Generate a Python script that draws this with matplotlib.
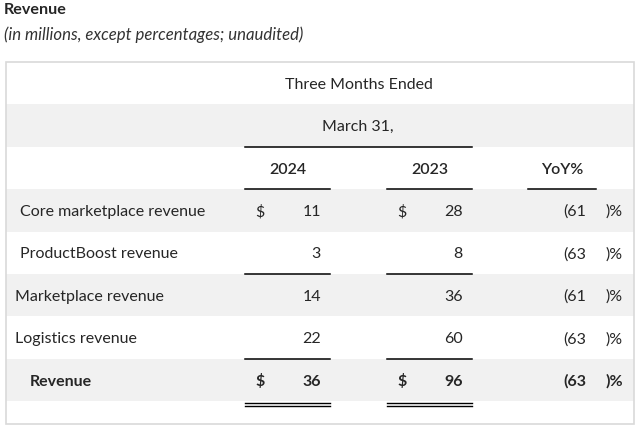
import matplotlib.pyplot as plt
from matplotlib.patches import Rectangle

plt.rcParams['font.family'] = ['Lato', 'DejaVu Sans']

# table data
row_labels = ['Core marketplace revenue', 'ProductBoost revenue', 'Marketplace revenue',
              'Logistics revenue', 'Revenue']
label_indent = [20, 20, 15, 15, 30]
rev_2024 = [11, 3, 14, 22, 36]
rev_2023 = [28, 8, 36, 60, 96]
yoy_pct = [-61, -63, -61, -63, -63]
show_dollar = [True, False, False, False, True]
bold_row = [False, False, False, False, True]
line_above = [False, False, True, False, True]
years = ['2024', '2023']

title = 'Revenue'
subtitle = '(in millions, except percentages; unaudited)'

W, H = 640, 429
fig = plt.figure(figsize=(W / 100, H / 100), dpi=100)
ax = fig.add_axes([0, 0, 1, 1])
ax.set_xlim(0, W)
ax.set_ylim(H, 0)
ax.axis('off')

txt = '#262626'
band = '#f1f1f1'

ax.text(4, 10, title, fontsize=11.6, fontweight='bold', color=txt, va='center')
ax.text(4, 35, subtitle, fontsize=12.1, style='italic', color='#333333', va='center')

# table frame and row bands
top, row_h = 62, 42.4
left, right = 5.5, 634
n_rows = 3 + len(row_labels)
for i in range(n_rows):
    if i % 2 == 1:
        ax.add_patch(Rectangle((left, top + i * row_h), right - left, row_h,
                               facecolor=band, edgecolor='none'))
ax.add_patch(Rectangle((left, top), right - left, 424 - top, facecolor='none',
                       edgecolor='#d9d9d9', linewidth=1.2))

def yc(i):
    # text centre of row i (slightly below the geometric middle)
    return top + (i + 0.5) * row_h + 1.5

fs = 11.5
ax.text(359, yc(0), 'Three Months Ended', fontsize=fs, color=txt, ha='center', va='center')
ax.text(358, yc(1), 'March 31,', fontsize=fs, color=txt, ha='center', va='center')
ax.plot([245, 472], [top + 2 * row_h] * 2, color='black', lw=1.1)

col_l = [245, 387]
col_r = [330, 472]
num_x = [321, 463]
for j, yr in enumerate(years):
    ax.text((col_l[j] + col_r[j]) / 2, yc(2), yr, fontsize=fs, color=txt,
            ha='center', va='center', fontweight='semibold')
    ax.plot([col_l[j], col_r[j]], [top + 3 * row_h] * 2, color='black', lw=1.1)
ax.text(562, yc(2), 'YoY%', fontsize=fs, color=txt, ha='center', va='center',
        fontweight='semibold')
ax.plot([528, 596], [top + 3 * row_h] * 2, color='black', lw=1.1)

for i, lab in enumerate(row_labels):
    r = i + 3
    y = yc(r)
    fw = 'bold' if bold_row[i] else 'normal'
    ax.text(label_indent[i], y, lab, fontsize=fs, color=txt, va='center', fontweight=fw)
    for j, vals in enumerate([rev_2024, rev_2023]):
        if show_dollar[i]:
            ax.text(col_l[j] + 10, y, '$', fontsize=fs, color=txt, va='center', fontweight=fw)
        ax.text(num_x[j], y, str(vals[i]), fontsize=fs, color=txt, ha='right',
                va='center', fontweight=fw)
        if line_above[i]:
            ax.plot([col_l[j], col_r[j]], [top + r * row_h] * 2, color='black', lw=1.1)
    ax.text(586, y, '(%d' % abs(yoy_pct[i]), fontsize=fs, color=txt, ha='right',
            va='center', fontweight=fw)
    ax.text(606, y, ')%', fontsize=fs, color=txt, va='center', fontweight=fw)

# double underline under total
y_tot = top + n_rows * row_h
for j in range(2):
    ax.plot([col_l[j], col_r[j]], [y_tot + 2] * 2, color='black', lw=1.0)
    ax.plot([col_l[j], col_r[j]], [y_tot + 5] * 2, color='black', lw=1.0)

fig.savefig('out.png', dpi=100, facecolor='white')
